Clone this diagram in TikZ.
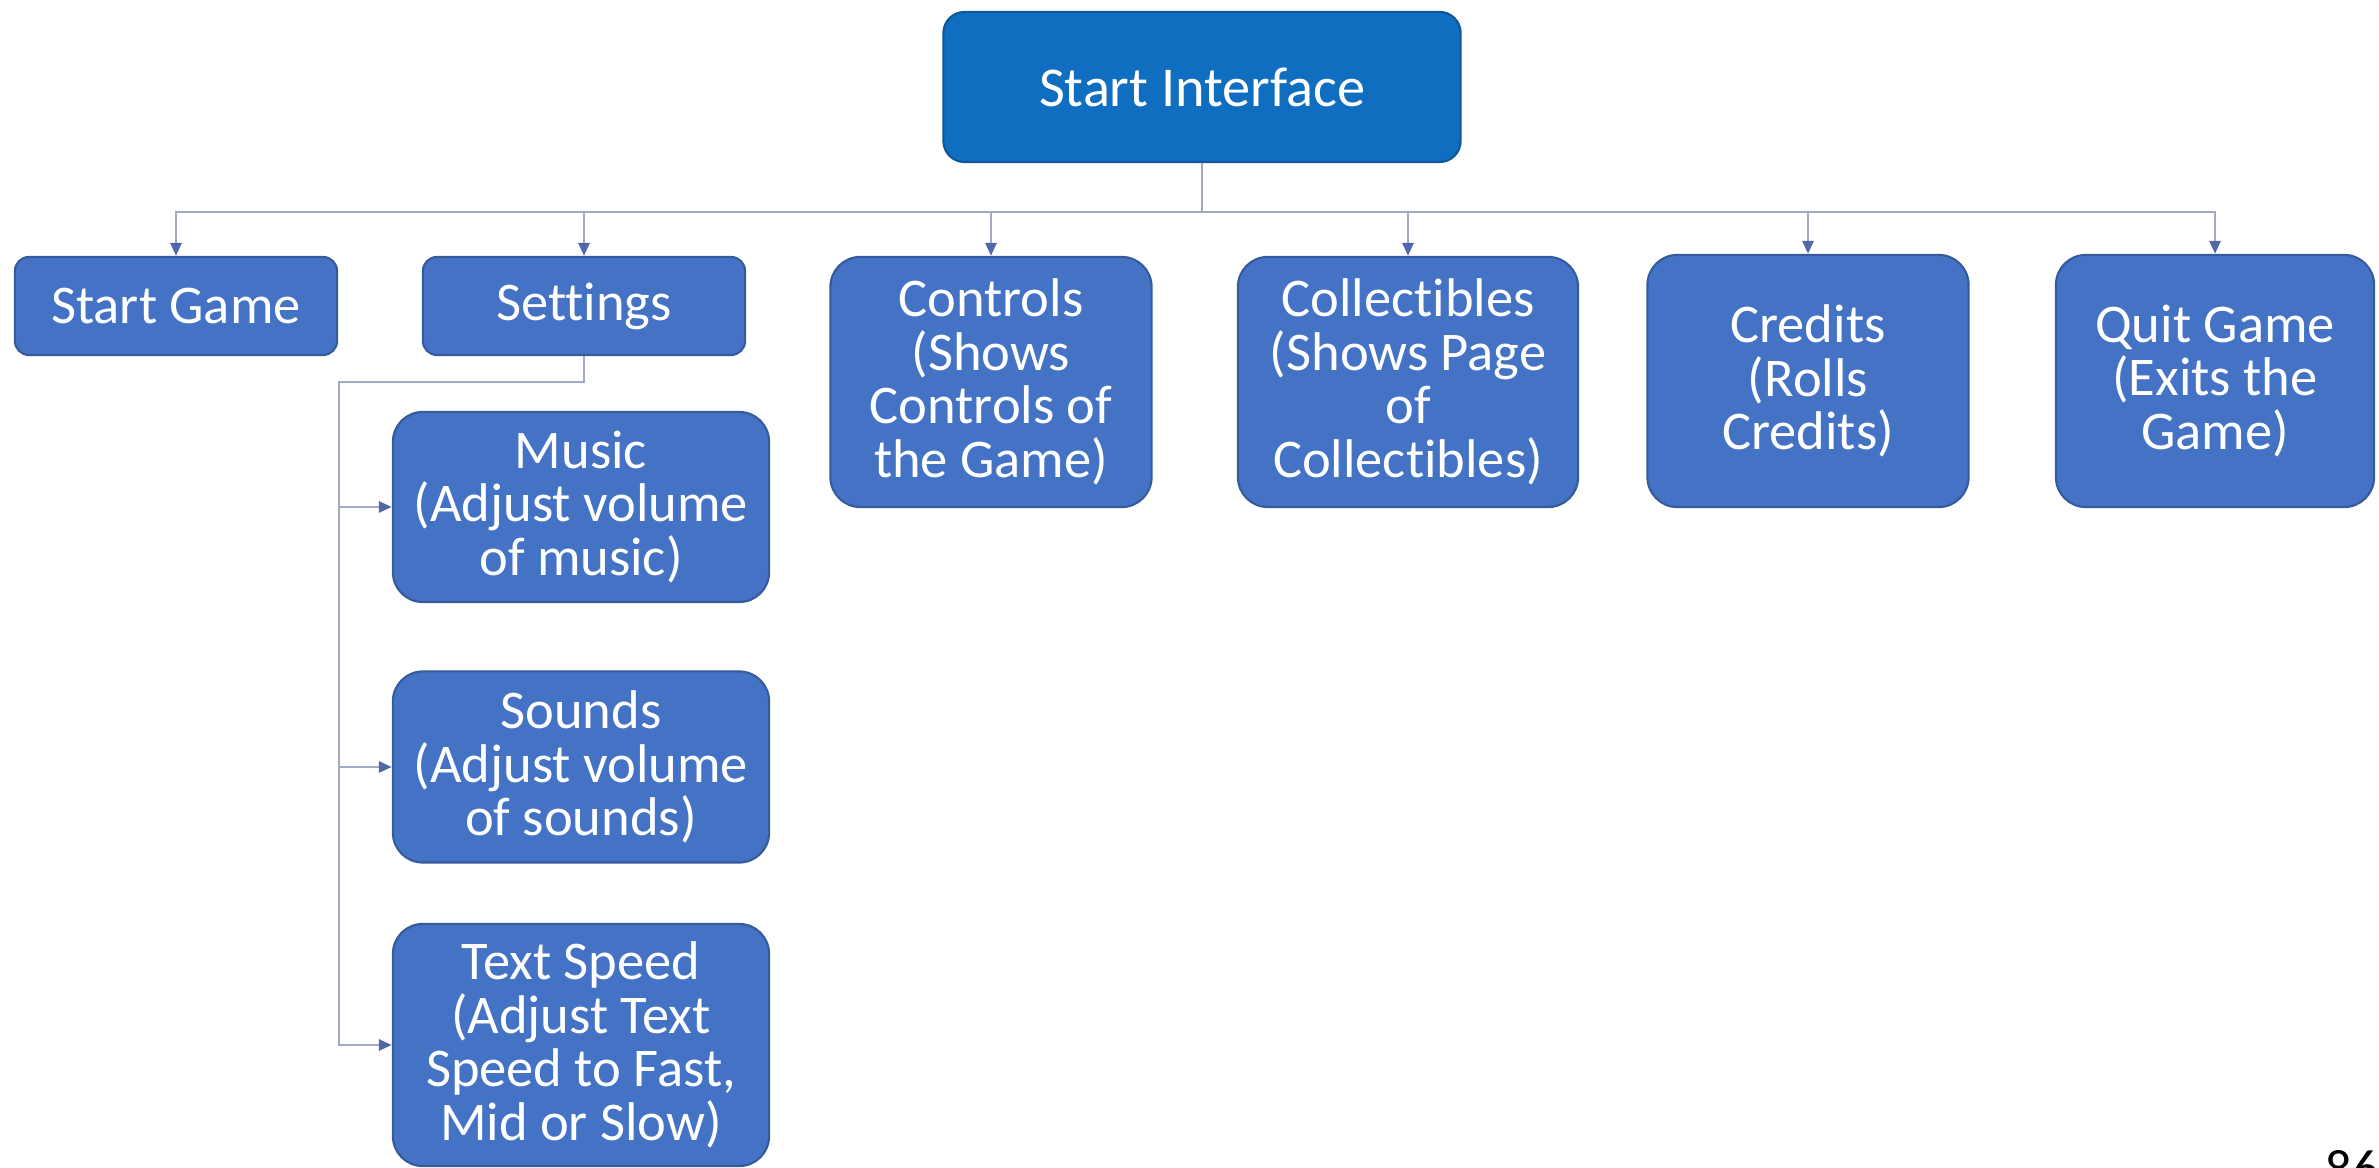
\documentclass[tikz,border=0pt]{standalone}
\usepackage{fontspec}
\setmainfont{Carlito}[Ligatures=NoCommon]
\usetikzlibrary{arrows.meta}
\definecolor{startblue}{RGB}{16,110,192}
\definecolor{boxblue}{RGB}{68,114,196}
\definecolor{linegray}{RGB}{162,170,198}
\definecolor{tipblue}{RGB}{82,102,170}

\begin{document}
\begin{tikzpicture}[x=0.01cm,y=-0.01cm,
    menu/.style={draw=boxblue!80!black,line width=0.6pt,fill=boxblue,text=white,
      align=center,inner sep=0pt,rounded corners=4pt,
      font=\fontsize{15.5}{15.2}\selectfont},
    tall/.style={menu,rounded corners=8.5pt},
    conn/.style={draw=linegray,line width=0.8pt,
      -{Triangle[length=0.13cm,width=0.11cm,color=tipblue]}}]
  \useasboundingbox (0,0) rectangle (2379,1168);

  \node[menu,fill=startblue,draw=startblue!80!black,rounded corners=6pt,
    minimum width=5.17cm,minimum height=1.5cm,font=\fontsize{16}{16}\selectfont]
    (start) at (1202,87) {Start Interface};

  \node[menu,minimum width=3.22cm,minimum height=0.98cm] (startgame) at (176,306) {Start Game};
  \node[menu,minimum width=3.22cm,minimum height=0.98cm] (settings) at (584,306) {Settings};
  \node[tall,minimum width=3.21cm,minimum height=2.5cm] (controls) at (991,382)
    {Controls\\(Shows\\Controls of\\the Game)};
  \node[tall,minimum width=3.4cm,minimum height=2.5cm] (collectibles) at (1408,382)
    {Collectibles\\(Shows Page\\of\\Collectibles)};
  \node[tall,minimum width=3.21cm,minimum height=2.52cm] (credits) at (1808,381)
    {Credits\\(Rolls\\Credits)};
  \node[tall,minimum width=3.18cm,minimum height=2.52cm] (quit) at (2215,381)
    {Quit Game\\(Exits the\\Game)};

  \node[tall,minimum width=3.76cm,minimum height=1.9cm] (music) at (581,507)
    {Music\\(Adjust volume\\of music)};
  \node[tall,minimum width=3.76cm,minimum height=1.91cm] (sounds) at (581,767)
    {Sounds\\(Adjust volume\\of sounds)};
  \node[tall,minimum width=3.76cm,minimum height=2.42cm] (textspeed) at (581,1045)
    {Text Speed\\(Adjust Text\\Speed to Fast,\\Mid or Slow)};

  \foreach \n in {startgame,settings,controls,collectibles,credits,quit}
    \draw[conn] (start.south) -- ++(0,49) -| (\n.north);

  \coordinate (trunk) at (339,382);
  \foreach \n in {music,sounds,textspeed}
    \draw[conn] (settings.south) |- (trunk) |- (\n.west);

  \node[anchor=north west,inner sep=0pt,font=\fontsize{15}{18}\selectfont] (pagenum)
    at (2325,1150) {86};
\end{tikzpicture}
\end{document}
